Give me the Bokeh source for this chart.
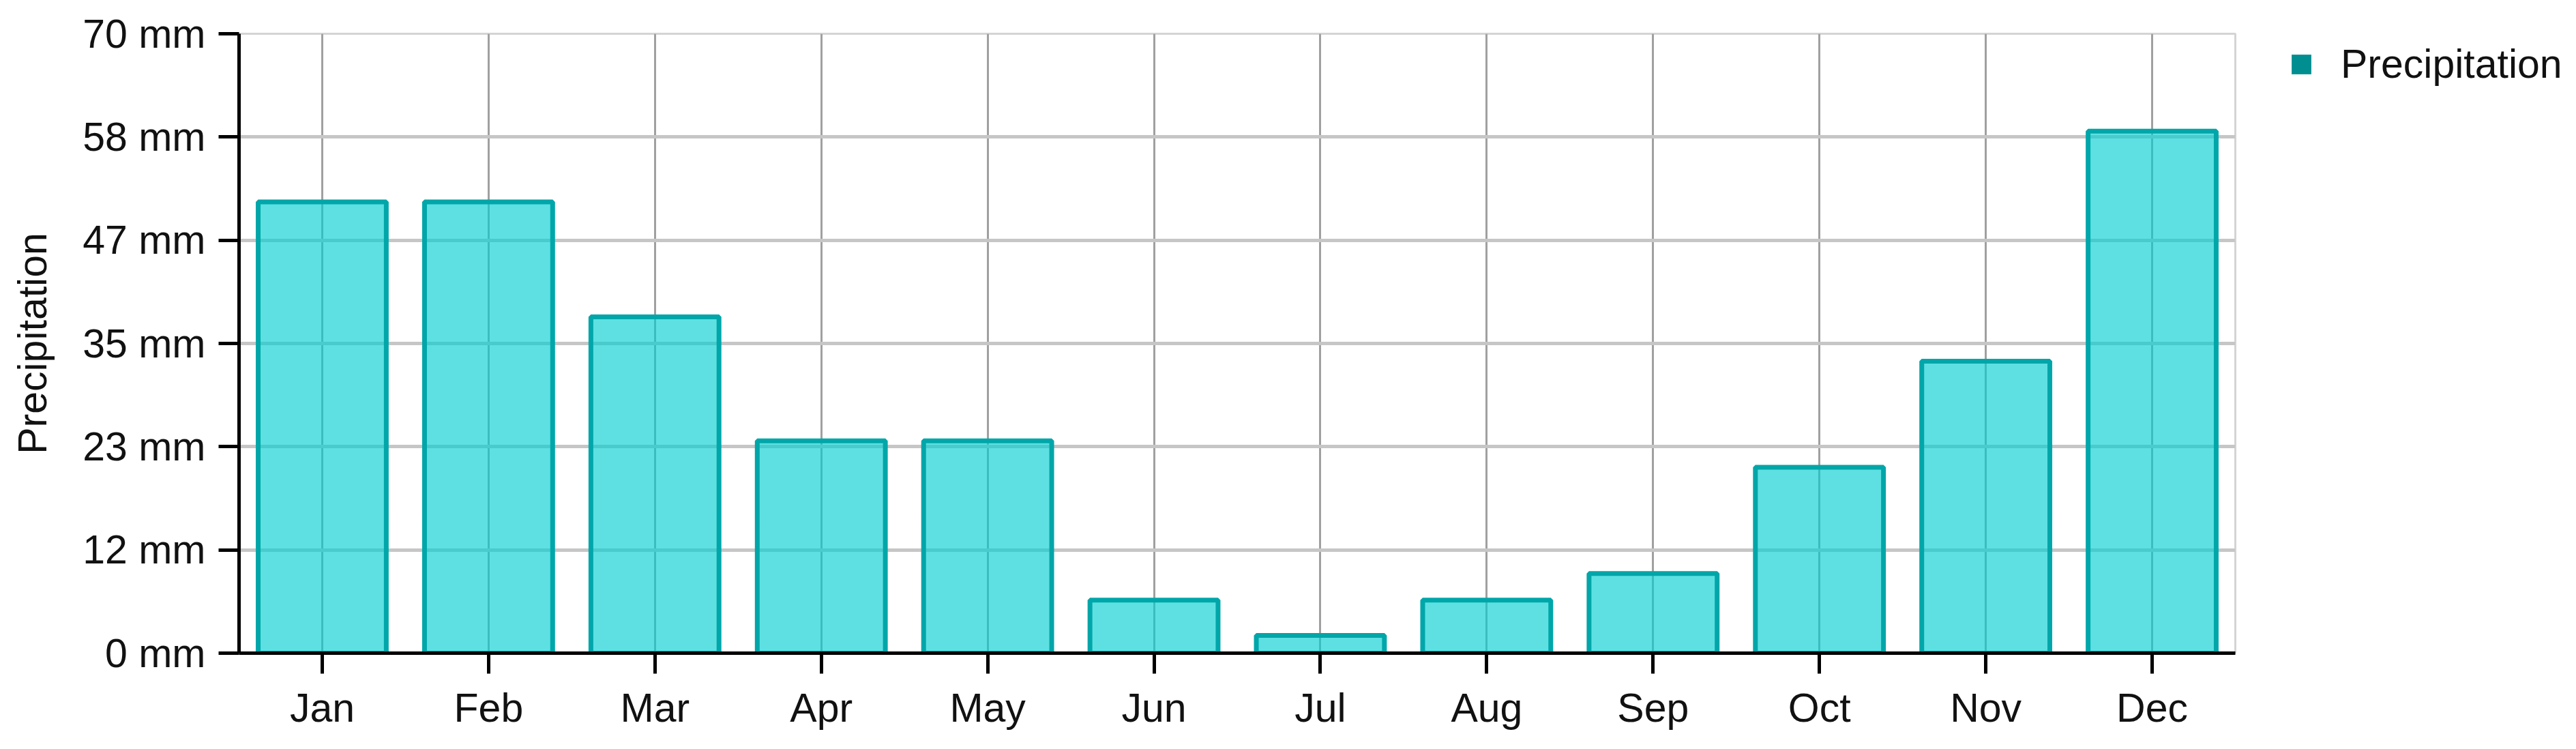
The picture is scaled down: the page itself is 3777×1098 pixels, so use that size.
from bokeh.plotting import figure
from bokeh.models import (FactorRange, Range1d, FixedTicker, Legend, LegendItem,
                          ColumnDataSource)
from bokeh.embed import file_html
from bokeh.resources import INLINE

# ---- data ----
months = ["Jan", "Feb", "Mar", "Apr", "May", "Jun",
          "Jul", "Aug", "Sep", "Oct", "Nov", "Dec"]
precip_mm = [51, 51, 38, 24, 24, 6, 2, 6, 9, 21, 33, 59]
y_ticks = [0, 11.67, 23.33, 35, 46.67, 58.33, 70]
y_tick_labels = ["0 mm", "12 mm", "23 mm", "35 mm", "47 mm", "58 mm", "70 mm"]
series_name = "Precipitation"
y_title = "Precipitation"

FONT = "Liberation Sans"
FS = "59px"

W, H = 3760, 1082
p = figure(x_range=FactorRange(factors=months, range_padding=0),
           y_range=Range1d(y_ticks[0], y_ticks[-1]),
           width=W, height=H, output_backend="svg", toolbar_location=None,
           min_border_left=350, min_border_right=0,
           min_border_top=49, min_border_bottom=125)

p.background_fill_color = "white"
p.border_fill_color = "white"
p.outline_line_color = "#d4d4d4"
p.outline_line_width = 3

src = ColumnDataSource(dict(month=months, precip=precip_mm))
p.vbar(x="month", top="precip", bottom=0, width=0.77, source=src,
       fill_color="#00CED1", fill_alpha=0.63,
       line_color="#00A6A9", line_width=7)

# zero-height bars: invisible in the plot, they only provide the legend swatch
leg_r = p.vbar(x="month", top="precip", bottom="precip", width=0.77, source=src,
               fill_color="#008E90", fill_alpha=1.0,
               line_color="#00A3A5", line_alpha=0.0, line_width=0)

legend = Legend(items=[LegendItem(label=series_name, renderers=[leg_r])],
                location=(79, 829), padding=0, margin=-191, spacing=0,
                glyph_width=36, glyph_height=36, label_standoff=40,
                label_text_font=FONT, label_text_font_size=FS,
                label_text_color="#111111",
                border_line_alpha=0, background_fill_alpha=0)
p.add_layout(legend, "right")

# grids
p.xgrid.grid_line_color = "#a0a0a0"
p.xgrid.grid_line_width = 3
p.ygrid.grid_line_color = "#c6c6c6"
p.ygrid.grid_line_width = 5

# axes
p.yaxis.ticker = FixedTicker(ticks=y_ticks)
p.yaxis.major_label_overrides = {t: s for t, s in zip(y_ticks, y_tick_labels)}
for ax in (p.xaxis[0], p.yaxis[0]):
    ax.axis_line_color = "black"
    ax.axis_line_width = 5
    ax.major_tick_line_color = "black"
    ax.major_tick_line_width = 5
    ax.major_tick_out = 30
    ax.major_tick_in = 0
    ax.minor_tick_out = 0
    ax.minor_tick_in = 0
    ax.major_label_text_font = FONT
    ax.major_label_text_font_size = FS
    ax.major_label_text_color = "#111111"

p.xaxis.major_label_standoff = 17
p.yaxis.major_label_standoff = 19
p.yaxis.axis_label = y_title
p.yaxis.axis_label_text_font = FONT
p.yaxis.axis_label_text_font_size = FS
p.yaxis.axis_label_text_font_style = "normal"
p.yaxis.axis_label_text_color = "#111111"
p.yaxis.axis_label_standoff = 37

open("out.html", "w").write(file_html(p, INLINE))
